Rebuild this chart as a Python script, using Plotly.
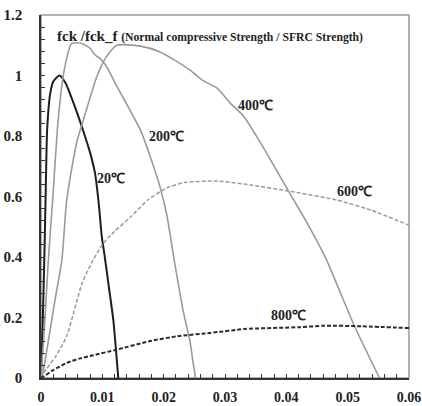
import plotly.graph_objects as go

# strain (x) and normalized strength (y) per temperature
x_20 = [0, 0.0003, 0.0006, 0.0008, 0.001, 0.0015, 0.002, 0.003, 0.004, 0.005, 0.006, 0.007, 0.008, 0.0088, 0.0094, 0.0099, 0.0104, 0.011, 0.0118, 0.0126]
y_20 = [0, 0.2, 0.45, 0.65, 0.82, 0.94, 0.98, 1.0, 0.975, 0.925, 0.87, 0.81, 0.745, 0.678, 0.58, 0.47, 0.40, 0.31, 0.19, 0.0]

x_200 = [0, 0.0006, 0.0012, 0.0019, 0.0028, 0.0038, 0.005, 0.00665, 0.008, 0.0088, 0.00964, 0.0107, 0.0124, 0.0142, 0.0162, 0.0178, 0.0194, 0.0205, 0.0218, 0.0232, 0.0243, 0.0248, 0.0252]
y_200 = [0, 0.18, 0.39, 0.588, 0.853, 1.02, 1.106, 1.106, 1.09, 1.068, 1.056, 1.029, 0.963, 0.897, 0.82, 0.732, 0.632, 0.54, 0.38, 0.22, 0.12, 0.05, 0.0]

x_400 = [0, 0.0003, 0.0023, 0.0034, 0.0042, 0.0058, 0.0069, 0.0091, 0.0106, 0.0124, 0.0162, 0.0194, 0.0222, 0.0243, 0.0263, 0.0287, 0.0309, 0.0331, 0.0358, 0.0404, 0.0434, 0.0464, 0.0511, 0.0552]
y_400 = [0, 0.017, 0.26, 0.39, 0.59, 0.777, 0.853, 0.996, 1.06, 1.10, 1.097, 1.078, 1.046, 1.018, 0.985, 0.958, 0.908, 0.864, 0.777, 0.616, 0.512, 0.397, 0.172, 0.0]

x_600 = [0, 0.0004, 0.0025, 0.0042, 0.0067, 0.0085, 0.0102, 0.012, 0.0145, 0.0175, 0.0205, 0.0233, 0.0287, 0.0342, 0.0404, 0.0483, 0.0538, 0.06]
y_600 = [0, 0.0155, 0.075, 0.139, 0.313, 0.39, 0.446, 0.485, 0.53, 0.59, 0.628, 0.646, 0.651, 0.638, 0.618, 0.588, 0.555, 0.505]

x_800 = [0, 0.0004, 0.002, 0.0042, 0.0064, 0.0085, 0.0124, 0.0178, 0.0222, 0.0276, 0.0332, 0.0423, 0.0462, 0.0523, 0.06]
y_800 = [0, 0.0043, 0.026, 0.05, 0.065, 0.075, 0.094, 0.122, 0.138, 0.149, 0.162, 0.168, 0.173, 0.171, 0.165]

labels = ["20℃", "200℃", "400℃", "600℃", "800℃"]
label_x = [0.01144, 0.0205, 0.0349, 0.0511, 0.0403]
label_y = [0.658, 0.80, 0.902, 0.618, 0.208]

FONT = "Liberation Serif"

fig = go.Figure()
series = [
    (x_20, y_20, "#1e1e1e", 2, "solid"),
    (x_200, y_200, "#9a9a9a", 1.6, "solid"),
    (x_400, y_400, "#9a9a9a", 1.6, "solid"),
    (x_600, y_600, "#9a9a9a", 1.5, "4px,2px"),
    (x_800, y_800, "#2a2a2a", 2, "4px,2px"),
]
for xs, ys, col, w, dash in series:
    fig.add_trace(go.Scatter(x=xs, y=ys, mode="lines",
                             line=dict(color=col, width=w, dash=dash, shape="spline", smoothing=0.6),
                             showlegend=False, hoverinfo="skip"))

for t, lx, ly in zip(labels, label_x, label_y):
    fig.add_annotation(x=lx, y=ly, text=t, showarrow=False,
                       font=dict(family=FONT, size=14, color="#222", weight="bold"),
                       xanchor="center", yanchor="middle")

fig.add_annotation(x=0.00229, y=1.13, xanchor="left", yanchor="middle", showarrow=False,
                   text="fck /fck_f <span style='font-size:11.7px'>(Normal compressive Strength / SFRC Strength)</span>",
                   font=dict(family=FONT, size=15, color="#222", weight="bold"))

# frame (top/right gray)
fig.add_shape(type="rect", xref="paper", yref="paper", x0=0, y0=0, x1=1, y1=1,
              line=dict(color="#999999", width=1.5), layer="below")

tfy = dict(family=FONT, size=15, color="#222", weight="bold")
tfx = dict(family=FONT, size=14, color="#222", weight="bold")
fig.update_xaxes(range=[0, 0.06], dtick=0.01, tick0=0, ticks="inside", ticklen=4, tickwidth=1,
                 tickcolor="#333", showline=True, linecolor="#333", linewidth=1.5,
                 showgrid=False, zeroline=False, automargin=False, ticklabeloverflow="allow",
                 minor=dict(dtick=0.002, tick0=0, ticks="inside", ticklen=4, tickcolor="#333", showgrid=False),
                 tickfont=tfx, ticklabelstandoff=5)
fig.update_yaxes(range=[0, 1.2], dtick=0.2, tick0=0, ticks="inside", ticklen=4, tickwidth=1,
                 tickcolor="#333", showline=True, linecolor="#333", linewidth=1.5,
                 showgrid=False, zeroline=False, automargin=False, ticklabeloverflow="allow",
                 minor=dict(dtick=0.04, tick0=0, ticks="inside", ticklen=4, tickcolor="#333", showgrid=False),
                 tickfont=tfy, ticklabelstandoff=14)

fig.update_layout(width=422, height=406, margin=dict(l=41, r=13, t=15, b=28),
                  paper_bgcolor="white", plot_bgcolor="white")

fig.write_html("out.html")
